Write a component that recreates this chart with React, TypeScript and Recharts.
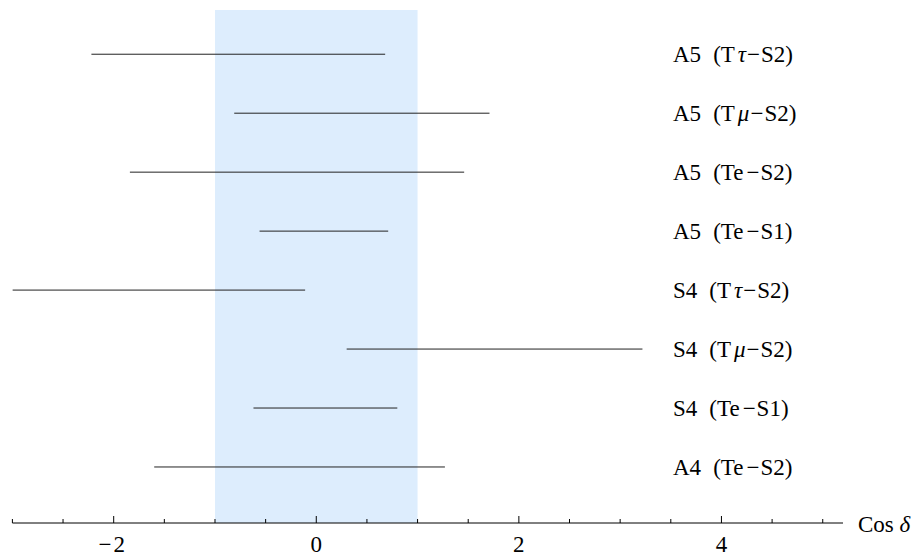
import {
  ComposedChart,
  XAxis,
  YAxis,
  Scatter,
  ReferenceArea,
} from 'recharts';

// rows listed top to bottom
const models = ['A5', 'A5', 'A5', 'A5', 'S4', 'S4', 'S4', 'A4'];
const flavours = ['τ', 'μ', 'e', 'e', 'τ', 'μ', 'e', 'e'];
const steriles = ['S2', 'S2', 'S2', 'S1', 'S2', 'S2', 'S1', 'S2'];
const lows = [-2.22, -0.81, -1.84, -0.56, -3.0, 0.3, -0.62, -1.6];
const highs = [0.68, 1.71, 1.46, 0.71, -0.11, 3.22, 0.8, 1.27];

const xTicks = [-3, -2.5, -2, -1.5, -1, -0.5, 0, 0.5, 1, 1.5, 2, 2.5, 3, 3.5, 4, 4.5, 5];
const majorTicks = [-2, 0, 2, 4];
const rowTicks = [1, 2, 3, 4, 5, 6, 7, 8];
const band = [-1, 1];

const textStyle = { fontFamily: 'Liberation Serif, serif' };
const n = models.length;
const rowValue = (i: number) => n - i;

const XTick = (props: any) => {
  const { x, y, payload } = props;
  const major = majorTicks.includes(payload.value);
  const v = payload.value;
  return (
    <g>
      <line x1={x} x2={x} y1={y} y2={y - (major ? 7 : 4)} stroke="#000" strokeWidth={1} />
      {major && (
        <text x={v < 0 ? x - 2 : x} y={y + 29} textAnchor="middle" fontSize={23} style={textStyle} fill="#000">
          {v < 0 ? (
            <>
              <tspan>−</tspan>
              <tspan dx={2}>{Math.abs(v)}</tspan>
            </>
          ) : (
            v
          )}
        </text>
      )}
    </g>
  );
};

const RowTick = (props: any) => {
  const { x, y, payload } = props;
  const i = n - payload.value;
  if (i < 0 || i >= n) return <g />;
  const greek = flavours[i] !== 'e';
  return (
    <text x={x - 170} y={y} dy="0.33em" fontSize={23} style={textStyle} fill="#000" textAnchor="start">
      <tspan>{models[i]}</tspan>
      <tspan dx={12}>(T</tspan>
      <tspan dx={greek ? 3 : 0} fontStyle={greek ? 'italic' : 'normal'}>{flavours[i]}</tspan>
      <tspan dx={greek ? 1 : 3}>−</tspan>
      <tspan dx={1}>{steriles[i]})</tspan>
    </text>
  );
};

const AxisName = (props: any) => {
  const { viewBox } = props;
  return (
    <text x={viewBox.x + viewBox.width + 15} y={viewBox.y + 9} fontSize={23} style={textStyle} fill="#000">
      Cos <tspan fontStyle="italic">δ</tspan>
    </text>
  );
};

const App = () => {
  return (
    <ComposedChart
      width={915}
      height={548}
      margin={{ top: 2, right: 79, bottom: 3, left: 4.4 }}
    >
      <XAxis
        type="number"
        dataKey="x"
        domain={[-3, 5.2]}
        ticks={xTicks}
        interval={0}
        height={30}
        tickSize={0}
        tickMargin={0}
        tickLine={false}
        axisLine={{ stroke: '#000', strokeWidth: 1 }}
        tick={<XTick />}
        label={<AxisName />}
        allowDataOverflow
      />
      <YAxis
        type="number"
        dataKey="y"
        orientation="right"
        domain={[0.05, 8.75]}
        ticks={rowTicks}
        interval={0}
        width={1}
        tickSize={0}
        tickMargin={0}
        tickLine={false}
        axisLine={false}
        tick={<RowTick />}
        allowDataOverflow
      />
      <ReferenceArea
        x1={band[0]}
        x2={band[1]}
        fill="#ddedfd"
        fillOpacity={1}
        stroke="none"
      />
      {models.map((m, i) => (
        <Scatter
          key={m + i}
          data={[
            { x: lows[i], y: rowValue(i) },
            { x: highs[i], y: rowValue(i) },
          ]}
          line={{ stroke: '#222', strokeWidth: 1 }}
          lineType="joint"
          shape={() => <g />}
          isAnimationActive={false}
        />
      ))}
    </ComposedChart>
  );
};

export default App;
